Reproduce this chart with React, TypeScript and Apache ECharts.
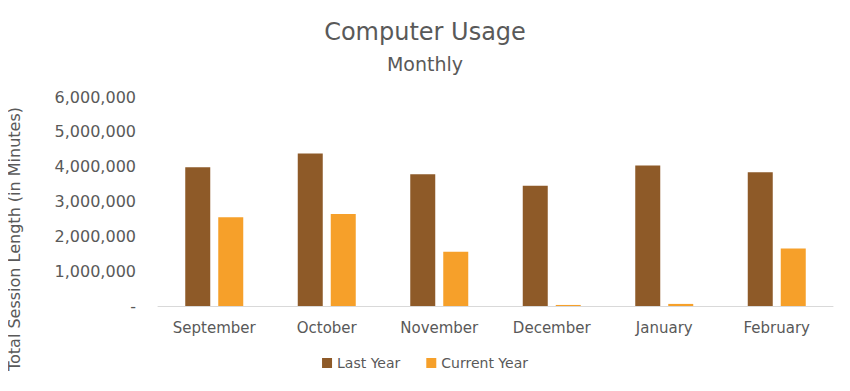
import React, { useEffect, useRef } from "react";
import * as echarts from "echarts";

const categories = ["September", "October", "November", "December", "January", "February"];
const lastYear = [3980000, 4380000, 3780000, 3450000, 4030000, 3840000];
const currentYear = [2550000, 2640000, 1560000, 30000, 60000, 1650000];
const seriesNames = ["Last Year", "Current Year"];
const colors = ["#8E5A28", "#F6A02A"];
const font = "DejaVu Sans";
const textColor = "#595959";

export default function App() {
  const ref = useRef<HTMLDivElement>(null);
  useEffect(() => {
    if (!ref.current) return;
    const chart = echarts.init(ref.current, null, { renderer: "svg" });
    chart.setOption({
      animation: false,
      backgroundColor: "#ffffff",
      textStyle: { fontFamily: font, color: textColor },
      title: [
        {
          text: "Computer Usage",
          left: "center",
          top: 15,
          textStyle: { fontFamily: font, fontSize: 24, fontWeight: "normal", color: textColor },
        },
        {
          text: "Monthly",
          left: "center",
          top: 49,
          textStyle: { fontFamily: font, fontSize: 19, fontWeight: "normal", color: textColor },
        },
      ],
      legend: {
        data: seriesNames,
        bottom: 16,
        left: "center",
        itemWidth: 10,
        itemHeight: 10,
        itemGap: 26,
        icon: "rect",
        textStyle: { fontFamily: font, fontSize: 14, color: textColor },
      },
      grid: { left: 158, right: 17, top: 97, bottom: 85, containLabel: false },
      xAxis: {
        type: "category",
        data: categories,
        axisLine: { lineStyle: { color: "#D9D9D9" } },
        axisTick: { show: false },
        axisLabel: { fontFamily: font, fontSize: 15, color: textColor, margin: 14 },
      },
      yAxis: {
        type: "value",
        min: 0,
        max: 6000000,
        interval: 1000000,
        splitLine: { show: false },
        axisLine: { show: false },
        axisTick: { show: false },
        axisLabel: {
          fontFamily: font,
          fontSize: 16,
          color: textColor,
          margin: 22,
          formatter: (v: number) => (v === 0 ? "-" : v.toLocaleString("en-US")),
        },
      },
      graphic: [
        {
          type: "text",
          x: 14,
          y: 239,
          rotation: Math.PI / 2,
          style: {
            text: "Total Session Length (in Minutes)",
            fontFamily: font,
            fontSize: 16,
            fill: textColor,
            align: "center",
            verticalAlign: "middle",
          },
        },
      ],
      series: [
        {
          name: seriesNames[0],
          type: "bar",
          data: lastYear,
          barWidth: 25,
          barGap: "32%",
          itemStyle: { color: colors[0] },
        },
        {
          name: seriesNames[1],
          type: "bar",
          data: currentYear,
          barWidth: 25,
          itemStyle: { color: colors[1] },
        },
      ],
    });
    return () => chart.dispose();
  }, []);
  return <div ref={ref} style={{ width: 850, height: 391, margin: -8 }} />;
}
